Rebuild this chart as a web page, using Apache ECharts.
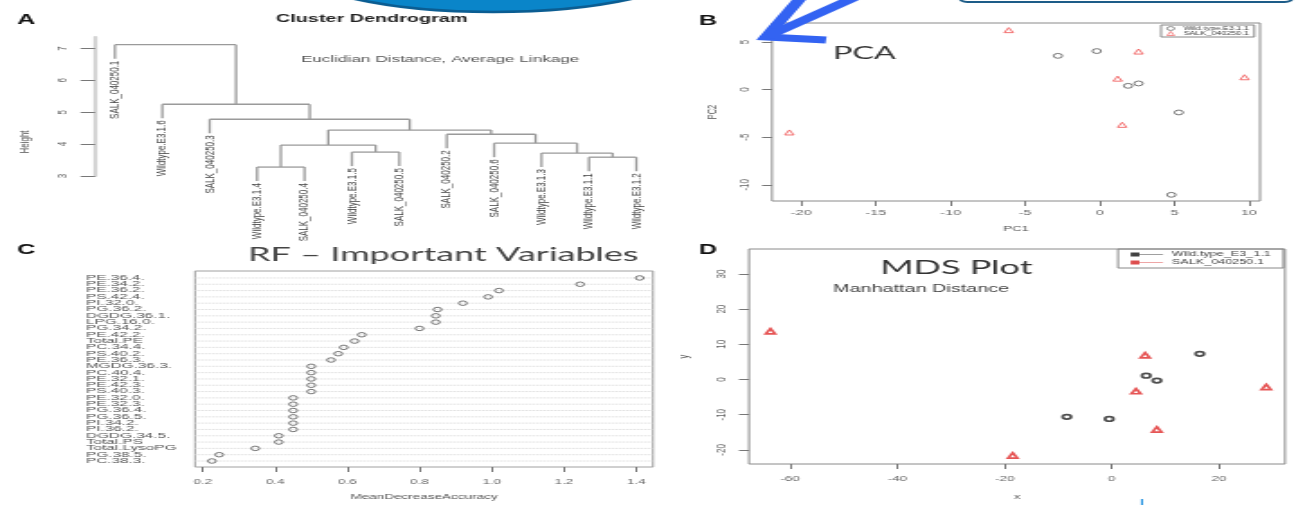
<!DOCTYPE html>
<html>
<head>
<meta charset="utf-8">
<script src="https://cdn.jsdelivr.net/npm/echarts@6/dist/echarts.min.js"></script>
<style>
    html, body { margin: 0; padding: 0; background: #fff; overflow: hidden; }
    #chart { height: 505px; transform-origin: 0 0; }
</style>
</head>
<body>
<div id="chart"></div>
<script>
// the reference figure is stretched sideways, so draw narrow and stretch the box
const S = 1.8;
const px = x => x / S;

// A - dendrogram (merges like R's hclust: negative = leaf, positive = earlier merge)
const leafLabels = ["SALK_040250.1", "Wildtype.E3.1.6", "SALK_040250.3", "Wildtype.E3.1.4", "SALK_040250.4", "Wildtype.E3.1.5",
    "SALK_040250.5", "SALK_040250.2", "SALK_040250.6", "Wildtype.E3.1.3", "Wildtype.E3.1.1", "Wildtype.E3.1.2"];
const mergeLeft = [-11, -4, -6, -10, 2, -9, -8, 5, -3, -2, -1];
const mergeRight = [-12, -5, -7, 1, 3, 4, 6, 7, 8, 9, 10];
const mergeHeight = [3.59, 3.28, 3.75, 3.72, 3.97, 4.03, 4.31, 4.44, 4.78, 5.25, 7.12];
const hang = 0.44;
const heightTicks = [3, 4, 5, 6, 7];

// B - PCA
const pcaWildPC1 = [-2.8, -0.2, 1.9, 2.6, 5.3, 4.8];
const pcaWildPC2 = [3.55, 4.05, 0.4, 0.65, -2.4, -11.05];
const pcaSalkPC1 = [-6.1, 2.6, 1.2, 9.7, 1.5, -20.8];
const pcaSalkPC2 = [6.25, 4.0, 1.15, 1.3, -3.7, -4.5];
const pc1Ticks = [-20, -15, -10, -5, 0, 5, 10];
const pc2Ticks = [-10, -5, 0, 5];

// C - RF important variables
const rfVariables = ["PE.36.4.", "PE.34.2.", "PE.36.2.", "PS.42.4.", "PI.32.0.", "PG.36.2.", "DGDG.36.1.", "LPG.16.0.",
    "PG.34.2.", "PE.42.2.", "Total.PE", "PC.34.4.", "PS.40.2.", "PE.36.3.", "MGDG.36.3.", "PC.40.4.", "PE.32.1.",
    "PE.42.3.", "PS.40.3.", "PE.32.0.", "PE.32.3.", "PG.36.4.", "PG.36.5.", "PI.34.2.", "PI.36.2.", "DGDG.34.5.",
    "Total.PS", "Total.LysoPG", "PG.38.5.", "PC.38.3."];
const rfAccuracy = [1.41, 1.245, 1.02, 0.99, 0.92, 0.85, 0.845, 0.845, 0.80, 0.64, 0.62, 0.59, 0.575, 0.555,
    0.50, 0.50, 0.50, 0.50, 0.50, 0.45, 0.45, 0.45, 0.45, 0.45, 0.45, 0.41, 0.41, 0.345, 0.245, 0.225];
const accTicks = [0.2, 0.4, 0.6, 0.8, 1.0, 1.2, 1.4];

// D - MDS
const mdsWildX = [16.4, 6.4, 8.4, -8.4, -0.5];
const mdsWildY = [7.3, 1.1, -0.3, -10.6, -11.2];
const mdsSalkX = [-63.7, 6.2, 4.5, 8.4, 28.8, -18.5];
const mdsSalkY = [13.7, 6.9, -3.3, -14.2, -2.1, -21.6];
const mdsXTicks = [-60, -40, -20, 0, 20];
const mdsYTicks = [-20, -10, 0, 10, 20, 30];

const legendText = {
    pcaWild: "Wild.type.E3.1.1",
    pcaSalk: "SALK_040250.1",
    mdsWild: "Wild.type_E3_1.1",
    mdsSalk: "SALK_040250.1",
};

const box = document.getElementById("chart");
box.style.width = 1298 / S + "px";
box.style.transform = "scaleX(" + S + ")";

// dendrogram segments from the merge table
const segments = [];
const leafEnds = [];
const nodeX = [];
function childOf(c, h) {
    if (c < 0) {
        const x = -c - 1;
        leafEnds.push([x, h - hang, x]);
        return { x, y: h - hang };
    }
    return { x: nodeX[c - 1], y: mergeHeight[c - 1] };
}
mergeHeight.forEach((h, i) => {
    const a = childOf(mergeLeft[i], h);
    const b = childOf(mergeRight[i], h);
    segments.push([a.x, h, b.x, h], [a.x, h, a.x, a.y], [b.x, h, b.x, b.y]);
    nodeX[i] = (a.x + b.x) / 2;
});

const zip = (xs, ys) => xs.map((x, i) => [x, ys[i]]);
const FONT = "Liberation Sans";
const tickLabel = { fontFamily: FONT, fontSize: 8, color: "#666" };

function xAxisR(gridIndex, min, max, ticks, name, gap, extra) {
    return {
        type: "value", gridIndex, min, max, name, nameLocation: "middle", nameGap: gap,
        nameTextStyle: { fontFamily: FONT, fontSize: 7.5, color: "#555" },
        axisLine: { show: false, onZero: false },
        axisTick: { show: true, customValues: ticks, length: 5, lineStyle: { color: "#777" } },
        axisLabel: Object.assign({ customValues: ticks, margin: 8 }, tickLabel, extra),
        splitLine: { show: false },
    };
}
function yAxisR(gridIndex, min, max, ticks, name, gap) {
    return {
        type: "value", gridIndex, min, max, name, nameLocation: "middle", nameGap: gap, nameRotate: 90,
        nameTextStyle: { fontFamily: FONT, fontSize: 7.5, color: "#555" },
        axisLine: { show: false, onZero: false },
        axisTick: { show: true, customValues: ticks, length: px(10), lineStyle: { color: "#777" } },
        axisLabel: Object.assign({ customValues: ticks, margin: 11, rotate: 90 }, tickLabel),
        splitLine: { show: false },
    };
}

function text(str, x, y, font, fill, extra) {
    return Object.assign({
        type: "text", x: px(x), y, z: 50,
        style: { text: str, font, fill, align: "left", verticalAlign: "middle" },
    }, extra);
}

const option = {
    animation: false,
    backgroundColor: "#fff",
    textStyle: { fontFamily: FONT },
    grid: [
        { left: px(95), top: 37, width: px(565), height: 139, outerBoundsMode: "none" },
        { left: px(772), top: 23, width: px(488), height: 178, show: true, borderColor: "#8a8a8a", borderWidth: 1, outerBoundsMode: "none" },
        { left: px(195), top: 271, width: px(458), height: 196, show: true, borderColor: "#a0a0a0", borderWidth: 1, outerBoundsMode: "none" },
        { left: px(749), top: 249, width: px(536), height: 215, show: true, borderColor: "#8a8a8a", borderWidth: 1, outerBoundsMode: "none" },
    ],
    xAxis: [
        { type: "value", gridIndex: 0, min: -0.42, max: 11.5, show: false, axisLine: { onZero: false }, splitLine: { show: false } },
        xAxisR(1, -21.96, 10.74, pc1Ticks, "PC1", 24),
        xAxisR(2, 0.178, 1.447, accTicks, "MeanDecreaseAccuracy", 26, { formatter: v => v.toFixed(1), fontSize: 7.5, margin: 11 }),
        xAxisR(3, -67.7, 32.3, mdsXTicks, "x", 29, { fontSize: 7.5, margin: 11 }),
    ],
    yAxis: [
        {
            type: "value", gridIndex: 0, min: 3, max: 7.36,
            axisLine: { show: true, onZero: false, lineStyle: { color: "#d4d4d4", width: 2.2 } },
            axisTick: { show: true, customValues: heightTicks, length: 8, lineStyle: { color: "#777" } },
            axisLabel: Object.assign({ customValues: heightTicks, margin: 14, rotate: 90 }, tickLabel),
            splitLine: { show: false },
        },
        yAxisR(1, -11.7, 7.0, pc2Ticks, "PC2", 29),
        { type: "value", gridIndex: 2, min: -1.1, max: 29.95, inverse: true, show: false, axisLine: { onZero: false }, splitLine: { show: false } },
        yAxisR(3, -24, 37.1, mdsYTicks, "y", 32),
    ],
    legend: [
        {
            left: px(1161), top: 25, orient: "vertical", itemGap: 0, itemWidth: 4, itemHeight: 4,
            padding: [1, 3], borderColor: "#888", borderWidth: 1, selectedMode: false,
            textStyle: { fontFamily: FONT, fontSize: 5, color: "#444", padding: 0 },
            formatter: name => legendText[name],
            data: [
                { name: "pcaWild", icon: "circle", itemStyle: { color: "rgba(0,0,0,0)", borderColor: "#555", borderWidth: 0.8 } },
                { name: "pcaSalk", icon: "triangle", itemStyle: { color: "rgba(0,0,0,0)", borderColor: "#f05050", borderWidth: 0.8 } },
            ],
        },
        {
            left: px(1118), top: 249, orient: "vertical", itemGap: 1, itemWidth: 18, itemHeight: 4.2,
            padding: [2, 7], borderColor: "#888", borderWidth: 1, selectedMode: false,
            textStyle: { fontFamily: FONT, fontSize: 7, color: "#444" },
            formatter: name => legendText[name],
            data: [
                { name: "mdsWild", icon: "path://M0,0H7V6H0Z M7,2.5H26V3.5H7Z", itemStyle: { color: "#111", borderWidth: 0 } },
                { name: "mdsSalk", icon: "path://M0,0H7V6H0Z M7,2.5H26V3.5H7Z", itemStyle: { color: "#d42020", borderWidth: 0 } },
            ],
        },
    ],
    graphic: [
        // decorations over the figure
        { type: "ellipse", z: 100, shape: { cx: px(493), cy: -47, rx: px(220), ry: 59 },
          style: { fill: "#0a85c9", stroke: "#0b5d92", lineWidth: 2.5 } },
        { type: "rect", z: 100, shape: { x: px(960), y: -20, width: px(332), height: 22, r: 4 },
          style: { fill: "#fff", stroke: "#1d5c88", lineWidth: 2 } },
        { type: "polyline", z: 100, shape: { points: [[px(826), 40], [px(766), 37], [px(806), -8]] },
          style: { stroke: "#3363f2", lineWidth: 7, fill: null, lineJoin: "miter" } },
        { type: "line", z: 100, shape: { x1: px(768), y1: 36, x2: px(885), y2: -16 },
          style: { stroke: "#3363f2", lineWidth: 7 } },
        { type: "rect", z: 100, shape: { x: px(1141), y: 499, width: px(2), height: 6 }, style: { fill: "#1d8fe0" } },

        // panel letters and titles
        text("A", 17, 20, "bold 14px " + FONT, "#111"),
        text("Cluster Dendrogram", 276, 19, "bold 11px " + FONT, "#222"),
        text("Euclidian Distance, Average Linkage", 301, 59, "9.5px " + FONT, "#555"),
        text("Height", 25, 142, "8px " + FONT, "#555", { rotation: Math.PI / 2, style: { text: "Height", font: "8px " + FONT, fill: "#555", align: "center", verticalAlign: "middle" } }),
        text("B", 699, 21, "bold 14px " + FONT, "#111"),
        text("PCA", 833, 53, "18px Lato", "#333"),
        text("C", 17, 250, "bold 14px " + FONT, "#111"),
        text("RF \u2013 Important Variables", 248, 255, "20px Lato", "#444"),
        text("D", 699, 250, "bold 14px " + FONT, "#111"),
        text("MDS Plot", 880, 268, "20px Lato", "#333"),
        text("Manhattan Distance", 833, 289, "11px " + FONT, "#444"),
    ],
    series: [
        {
            type: "custom", xAxisIndex: 0, yAxisIndex: 0, silent: true, clip: false,
            data: segments,
            renderItem(params, api) {
                const p1 = api.coord([api.value(0), api.value(1)]);
                const p2 = api.coord([api.value(2), api.value(3)]);
                return { type: "line", shape: { x1: p1[0], y1: p1[1], x2: p2[0], y2: p2[1] }, style: { stroke: "#9a9a9a", lineWidth: 1.3 } };
            },
        },
        {
            type: "custom", xAxisIndex: 0, yAxisIndex: 0, silent: true, clip: false,
            data: leafEnds,
            renderItem(params, api) {
                const p = api.coord([api.value(0), api.value(1)]);
                return {
                    type: "text", x: p[0], y: p[1] + 2, rotation: Math.PI / 2,
                    style: { text: leafLabels[api.value(2)], align: "right", verticalAlign: "middle", font: "8px " + FONT, fill: "#444" },
                };
            },
        },
        { name: "pcaWild", type: "scatter", xAxisIndex: 1, yAxisIndex: 1, silent: true, symbol: "circle", symbolSize: 4.8,
          data: zip(pcaWildPC1, pcaWildPC2), itemStyle: { color: "rgba(0,0,0,0)", borderColor: "#555", borderWidth: 1 } },
        { name: "pcaSalk", type: "scatter", xAxisIndex: 1, yAxisIndex: 1, silent: true, symbol: "triangle", symbolSize: 5,
          data: zip(pcaSalkPC1, pcaSalkPC2), itemStyle: { color: "rgba(0,0,0,0)", borderColor: "#f05050", borderWidth: 1 } },
        {
            // row lines and variable names of the dot chart
            type: "custom", xAxisIndex: 2, yAxisIndex: 2, silent: true, clip: false,
            data: rfAccuracy.map((v, i) => [v, i]),
            renderItem(params, api) {
                const cs = params.coordSys;
                const y = api.coord([api.value(0), api.value(1)])[1];
                return {
                    type: "group",
                    children: [
                        { type: "line", shape: { x1: cs.x, y1: y, x2: cs.x + cs.width, y2: y }, style: { stroke: "#d6d6d6", lineWidth: 1, lineDash: [1, 1] } },
                        { type: "text", x: cs.x - px(109), y, scaleX: 1.25,
                          style: { text: rfVariables[api.value(1)], align: "left", verticalAlign: "middle", font: "6.8px " + FONT, fill: "#555" } },
                    ],
                };
            },
        },
        { type: "scatter", xAxisIndex: 2, yAxisIndex: 2, silent: true, symbol: "circle", symbolSize: 4.5, z: 3,
          data: rfAccuracy.map((v, i) => [v, i]), itemStyle: { color: "rgba(0,0,0,0)", borderColor: "#555", borderWidth: 1 } },
        { name: "mdsWild", type: "scatter", xAxisIndex: 3, yAxisIndex: 3, silent: true, symbol: "circle", symbolSize: 4.6,
          data: zip(mdsWildX, mdsWildY), itemStyle: { color: "rgba(0,0,0,0)", borderColor: "#222", borderWidth: 1.7 } },
        { name: "mdsSalk", type: "scatter", xAxisIndex: 3, yAxisIndex: 3, silent: true, symbol: "triangle", symbolSize: 5.2,
          data: zip(mdsSalkX, mdsSalkY), itemStyle: { color: "rgba(0,0,0,0)", borderColor: "#e02a2a", borderWidth: 1.7 } },
    ],
};

const chart = echarts.init(box, null, { renderer: "canvas" });
chart.setOption(option);
</script>
</body>
</html>
